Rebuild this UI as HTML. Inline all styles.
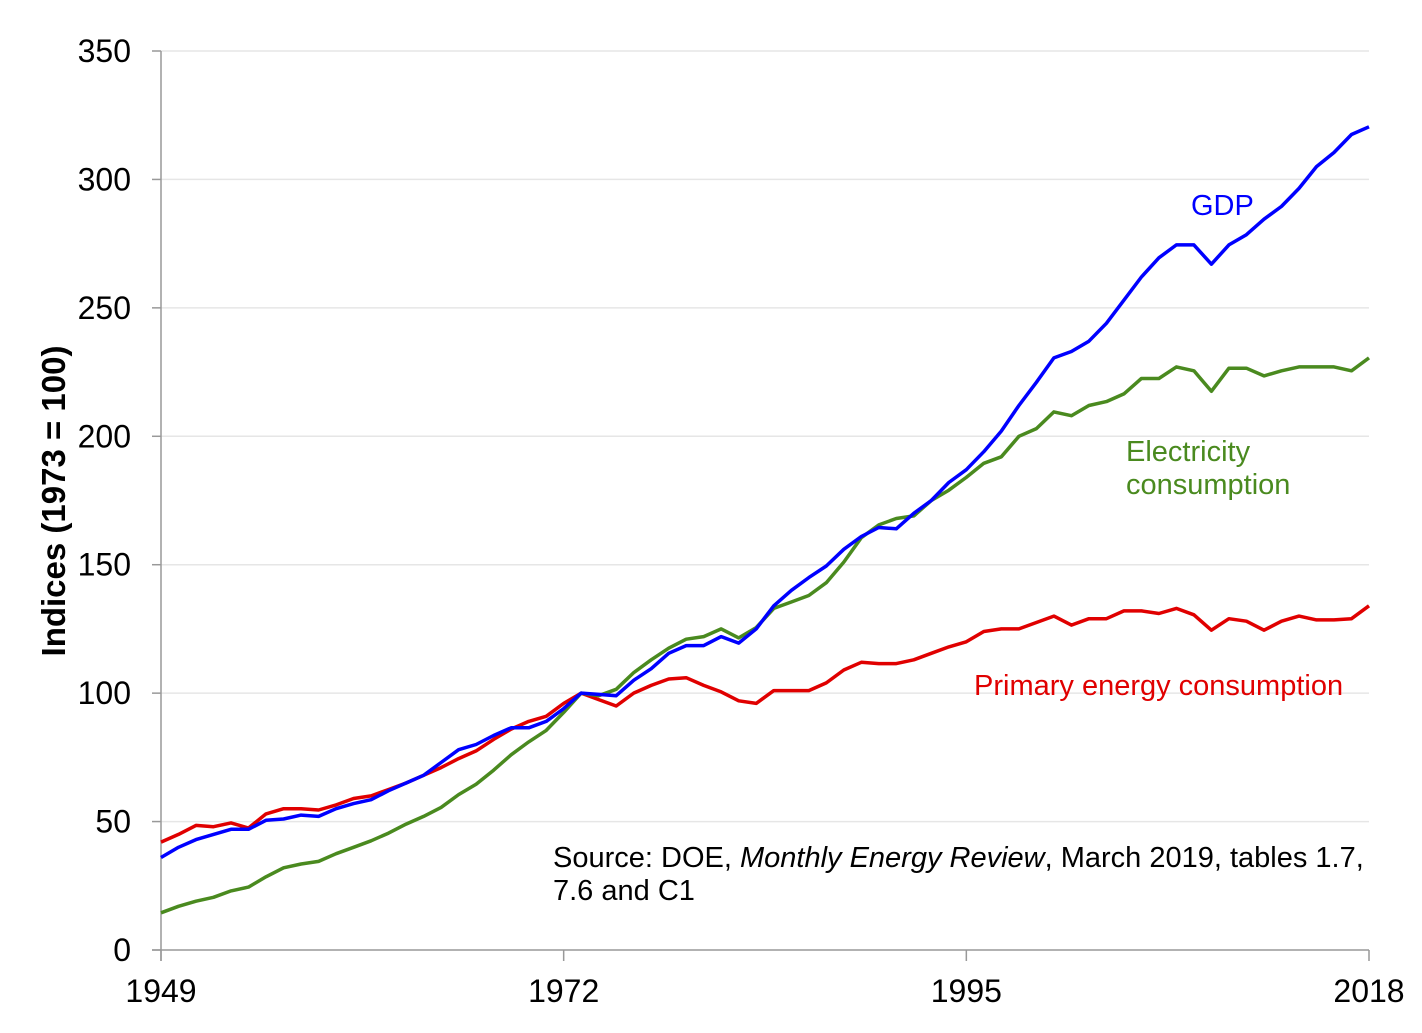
<!DOCTYPE html>
<html><head><meta charset="utf-8"><style>
html,body{margin:0;padding:0;background:#fff;}
svg{display:block;font-family:"Liberation Sans",Arial,sans-serif;}
</style></head><body>
<svg id="chart" width="1422" height="1033" viewBox="0 0 1422 1033" xmlns="http://www.w3.org/2000/svg">
<g id="grid"></g>
<g id="axes"></g>
<g id="series"></g>
<text transform="translate(65,501) rotate(-90)" text-anchor="middle" font-size="33" font-weight="bold" fill="#000">Indices (1973 = 100)</text>
<text x="1191" y="215" font-size="29" fill="#0000ff">GDP</text>
<text x="1126" y="461" font-size="29" fill="#4a8a1f">Electricity</text>
<text x="1126" y="494" font-size="29" fill="#4a8a1f">consumption</text>
<text x="974" y="695" font-size="29" fill="#e00000">Primary energy consumption</text>
<text x="553" y="867" font-size="29" fill="#000">Source: DOE, <tspan font-style="italic">Monthly Energy Review</tspan>, March 2019, tables 1.7,</text>
<text x="553" y="900" font-size="29" fill="#000">7.6 and C1</text>
</svg>
<script>
const years = [];
for (let y = 1949; y <= 2018; y++) years.push(y);
const gdp = [36,40,43,45,47,47,50.5,51,52.5,52,55,57,58.5,62,65,68,73,78,80,83.5,86.5,86.5,89,94,100,99.5,99,105,109.5,115.5,118.5,118.5,122,119.5,125,134,140,145,149.5,156,161,164.5,164,170,175,182,187,194,202,212,221,230.5,233,237,244,253,262,269.5,274.5,274.5,267,274.5,278.5,284.5,289.5,296.5,305,310.5,317.5,320.5];
const electricity = [14.5,17,19,20.5,23,24.5,28.5,32,33.5,34.5,37.5,40,42.5,45.5,49,52,55.5,60.5,64.5,70,76,81,85.5,92.5,100,99,101.5,108,113,117.5,121,122,125,121.5,125.5,133,135.5,138,143,151,160.5,165.5,168,169,175,179,184,189.5,192,200,203,209.5,208,212,213.5,216.5,222.5,222.5,227,225.5,217.5,226.5,226.5,223.5,225.5,227,227,227,225.5,230.5];
const primary = [42,45,48.5,48,49.5,47.5,53,55,55,54.5,56.5,59,60,62.5,65,68,71,74.5,77.5,82,86,89,91,96,100,97.5,95,100,103,105.5,106,103,100.5,97,96,101,101,101,104,109,112,111.5,111.5,113,115.5,118,120,124,125,125,127.5,130,126.5,129,129,132,132,131,133,130.5,124.5,129,128,124.5,128,130,128.5,128.5,129,134];
const yTicks = [0,50,100,150,200,250,300,350];
const xTicks = [1949,1972,1995,2018];

const X0=161,X1=1369,Y0=950,Y1=51;
function xs(yr){return X0+(yr-1949)*(X1-X0)/(2018-1949);}
function ys(v){return Y0-v*(Y0-Y1)/350;}
const NS="http://www.w3.org/2000/svg";
function mk(tag,attrs,parent){const e=document.createElementNS(NS,tag);for(const k in attrs)e.setAttribute(k,attrs[k]);parent.appendChild(e);return e;}
const grid=document.getElementById('grid'),axes=document.getElementById('axes'),ser=document.getElementById('series');
yTicks.forEach(v=>{
  if(v>0){const g=mk('line',{x1:X0,x2:X1,y1:ys(v),y2:ys(v),stroke:'#e6e6e6','stroke-width':1.5},grid);
  
  }
  const t=mk('line',{x1:X0-9,x2:X0,y1:ys(v),y2:ys(v),stroke:'#999','stroke-width':1.5},axes);
  
  
  const l=mk('text',{x:X0-30,y:ys(v)+11,'text-anchor':'end','font-size':32,fill:'#000'},axes);
  l.textContent=v;
  
  
});
const ya=mk('line',{x1:X0,x2:X0,y1:Y1,y2:Y0+11,stroke:'#999','stroke-width':1.5},axes);


const xa=mk('line',{x1:X0-9,x2:X1,y1:Y0,y2:Y0,stroke:'#999','stroke-width':1.5},axes);


xTicks.forEach(yr=>{
  const t=mk('line',{x1:xs(yr),x2:xs(yr),y1:Y0,y2:Y0+11,stroke:'#999','stroke-width':1.5},axes);
  
  
  const l=mk('text',{x:xs(yr),y:Y0+52,'text-anchor':'middle','font-size':32,fill:'#000'},axes);
  l.textContent=yr;
  
  
});
function line(data,color,name){
  const d=data.map((v,i)=>(i?'L':'M')+xs(years[i]).toFixed(1)+','+ys(v).toFixed(1)).join(' ');
  const p=mk('path',{d:d,fill:'none',stroke:color,'stroke-width':3.5,'stroke-linejoin':'round'},ser);
  
  
}
line(primary,'#e00000','primary-energy-line');
line(electricity,'#4a8a1f','electricity-line');
line(gdp,'#0000ff','gdp-line');
</script>
</body></html>
